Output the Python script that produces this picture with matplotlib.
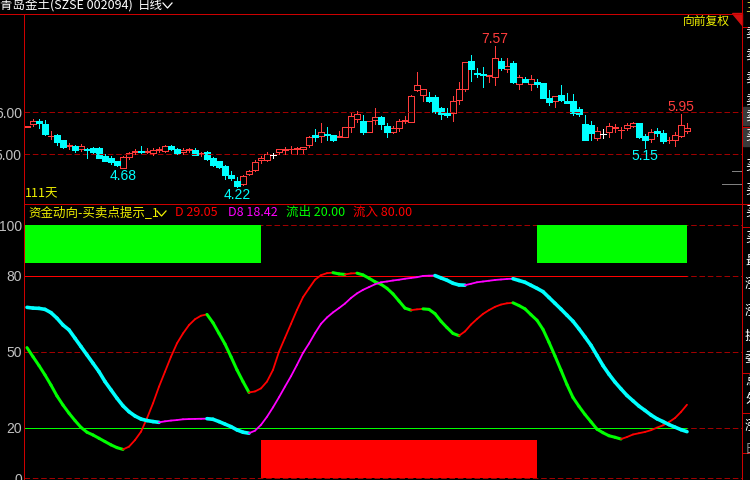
import numpy as np
import matplotlib
matplotlib.use("Agg")
import matplotlib.pyplot as plt
from matplotlib.collections import LineCollection
from matplotlib.lines import Line2D
from matplotlib.patches import Polygon, Rectangle

plt.rcParams['font.family'] = ['Liberation Sans', 'Noto Sans CJK SC', 'DejaVu Sans']
plt.rcParams['lines.scale_dashes'] = False
CJK = ['Noto Sans CJK SC', 'DejaVu Sans']

# ---- daily bars (111 days) ----
opens = [5.65, 5.71, 5.80, 5.72, 5.43, 5.46, 5.34, 5.20, 5.20, 5.12,
         5.13, 5.14, 5.16, 4.96, 4.92, 4.83, 4.68, 4.94, 5.05, 5.08,
         5.05, 5.02, 5.11, 5.09, 5.20, 5.13, 5.05, 5.11, 5.10, 5.01,
         5.06, 4.90, 4.83, 4.72, 4.51, 4.37, 4.29, 4.52, 4.62, 4.86,
         4.87, 4.98, 5.05, 5.11, 5.12, 5.13, 5.12, 5.21, 5.46, 5.44,
         5.48, 5.46, 5.42, 5.42, 5.66, 5.85, 5.79, 5.52, 5.82, 5.88,
         5.67, 5.54, 5.63, 5.80, 5.78, 6.53, 6.41, 6.37, 6.37, 6.11,
         5.98, 5.99, 6.29, 6.56, 7.22, 6.94, 6.92, 6.86, 6.83, 7.21,
         7.03, 7.18, 6.67, 6.79, 6.67, 6.73, 6.69, 6.35, 6.28, 6.41,
         6.27, 6.27, 6.08, 5.72, 5.70, 5.38, 5.48, 5.52, 5.62, 5.57,
         5.63, 5.68, 5.74, 5.44, 5.36, 5.56, 5.50, 5.33, 5.33, 5.44,
         5.56]
highs = [5.68, 5.84, 5.84, 5.82, 5.56, 5.48, 5.35, 5.26, 5.22, 5.25,
         5.14, 5.17, 5.18, 5.00, 4.96, 4.85, 4.97, 5.06, 5.12, 5.20,
         5.14, 5.14, 5.17, 5.22, 5.22, 5.14, 5.14, 5.16, 5.14, 5.06,
         5.08, 4.94, 4.85, 4.75, 4.60, 4.47, 4.51, 4.63, 4.86, 4.95,
         5.06, 5.04, 5.13, 5.17, 5.20, 5.18, 5.17, 5.44, 5.60, 5.74,
         5.64, 5.46, 5.56, 5.64, 5.98, 6.03, 5.94, 5.79, 6.10, 5.91,
         5.74, 5.67, 5.83, 5.91, 6.41, 6.97, 6.55, 6.49, 6.40, 6.13,
         6.10, 6.39, 6.73, 7.19, 7.37, 7.06, 7.09, 6.88, 7.57, 7.29,
         7.29, 7.22, 6.89, 6.85, 6.89, 6.79, 6.69, 6.53, 6.39, 6.65,
         6.47, 6.43, 6.12, 5.94, 5.80, 5.64, 5.60, 5.74, 5.72, 5.66,
         5.74, 5.78, 5.74, 5.48, 5.60, 5.63, 5.58, 5.42, 5.52, 5.95,
         5.74]
lows = [5.64, 5.67, 5.63, 5.46, 5.36, 5.21, 5.16, 5.12, 5.06, 5.07,
        4.92, 5.02, 4.90, 4.83, 4.76, 4.71, 4.68, 4.89, 5.00, 5.04,
        5.04, 4.98, 5.06, 5.06, 5.10, 5.00, 5.01, 5.06, 4.98, 4.97,
        4.87, 4.73, 4.67, 4.41, 4.39, 4.22, 4.27, 4.50, 4.60, 4.80,
        4.85, 4.92, 5.00, 5.01, 5.04, 5.01, 5.02, 5.17, 5.32, 5.30,
        5.34, 5.32, 5.40, 5.40, 5.52, 5.77, 5.48, 5.52, 5.72, 5.60,
        5.42, 5.50, 5.56, 5.74, 5.76, 6.51, 6.27, 6.25, 5.98, 5.84,
        5.88, 5.79, 6.20, 6.51, 6.75, 6.83, 6.61, 6.71, 6.65, 7.01,
        6.97, 6.69, 6.56, 6.71, 6.53, 6.60, 6.33, 6.17, 6.13, 6.28,
        6.23, 5.94, 5.91, 5.34, 5.34, 5.34, 5.38, 5.40, 5.54, 5.38,
        5.58, 5.66, 5.38, 5.15, 5.30, 5.44, 5.28, 5.28, 5.20, 5.42,
        5.50]
closes = [5.67, 5.80, 5.74, 5.48, 5.44, 5.30, 5.18, 5.21, 5.10, 5.20,
          5.10, 5.06, 4.92, 4.85, 4.81, 4.75, 4.94, 5.04, 5.07, 5.05,
          5.07, 5.10, 5.12, 5.20, 5.12, 5.02, 5.10, 5.12, 4.98, 5.03,
          4.89, 4.75, 4.69, 4.51, 4.44, 4.25, 4.48, 4.61, 4.82, 4.92,
          5.01, 4.98, 5.12, 5.13, 5.13, 5.15, 5.17, 5.41, 5.40, 5.52,
          5.45, 5.34, 5.44, 5.64, 5.91, 5.96, 5.52, 5.79, 5.88, 5.72,
          5.52, 5.63, 5.79, 5.82, 6.39, 6.65, 6.55, 6.27, 6.00, 5.96,
          5.94, 6.27, 6.55, 7.19, 7.03, 6.91, 6.89, 6.88, 7.29, 7.05,
          7.10, 6.71, 6.83, 6.73, 6.79, 6.67, 6.35, 6.25, 6.39, 6.29,
          6.23, 5.99, 5.96, 5.34, 5.50, 5.56, 5.48, 5.67, 5.64, 5.59,
          5.70, 5.75, 5.40, 5.34, 5.52, 5.50, 5.32, 5.35, 5.46, 5.70,
          5.63]

# marked extremes: bar index, 'high' or 'low'
mark_idx = [78, 109, 103, 16, 35]
mark_kind = ['high', 'high', 'low', 'low', 'low']
price_ticks = [5.0, 6.0]

# ---- indicator ----
D = [51.6, 48.0, 44.5, 40.8, 36.8, 32.5, 28.9, 25.7, 22.8, 20.1,
     18.2, 17.1, 15.8, 14.5, 13.2, 12.1, 11.4, 12.5, 15.1, 18.4,
     23.7, 29.6, 36.2, 42.1, 48.0, 53.3, 57.2, 60.5, 62.8, 64.2,
     64.7, 61.4, 57.2, 53.0, 48.0, 42.8, 38.2, 33.9, 34.3, 35.5,
     38.2, 42.8, 50.0, 55.5, 61.0, 66.5, 71.5, 75.0, 78.4, 80.2,
     81.0, 81.2, 80.7, 80.5, 80.9, 81.0, 80.3, 79.0, 77.6, 76.6,
     75.0, 72.8, 70.0, 67.2, 66.4, 66.7, 66.9, 66.7, 65.0, 62.0,
     59.5, 57.2, 56.3, 58.0, 60.7, 62.9, 64.9, 66.4, 67.7, 68.6,
     69.1, 69.3, 68.2, 66.9, 64.6, 62.4, 58.8, 53.7, 48.3, 42.7,
     37.0, 31.9, 28.4, 25.2, 22.3, 19.4, 18.0, 16.8, 16.2, 15.5,
     16.3, 17.3, 17.8, 18.3, 19.0, 20.0, 20.9, 22.2, 23.8, 26.2,
     29.05]
D8 = [67.5, 67.2, 67.1, 66.7, 65.4, 63.2, 60.5, 58.6, 55.3, 52.0,
      48.7, 45.4, 42.1, 38.2, 34.9, 31.6, 28.6, 26.3, 24.6, 23.4,
      22.8, 22.4, 22.1, 22.5, 22.8, 23.0, 23.3, 23.4, 23.45, 23.5,
      23.55, 23.3, 22.4, 21.4, 20.4, 19.1, 18.2, 17.8, 18.8, 21.1,
      24.3, 28.0, 32.0, 36.2, 40.3, 44.8, 49.5, 53.2, 57.3, 61.0,
      63.5, 65.5, 67.2, 69.0, 71.2, 73.0, 74.4, 75.5, 76.6, 77.4,
      77.7, 78.1, 78.4, 78.8, 79.1, 79.4, 79.9, 80.0, 80.05, 79.1,
      78.2, 77.0, 76.35, 76.25, 76.8, 77.4, 77.7, 78.0, 78.3, 78.5,
      78.7, 78.8, 78.1, 77.4, 76.2, 75.0, 73.7, 71.4, 69.1, 66.8,
      64.4, 62.0, 59.0, 55.8, 52.5, 48.5, 44.5, 41.1, 38.0, 35.3,
      32.7, 30.6, 28.5, 26.8, 25.0, 23.5, 22.4, 21.2, 20.2, 19.2,
      18.42]
outflow_level = 20.0
inflow_level = 80.0
ind_ticks = [0, 20, 50, 80, 100]
# signal zones (bar index ranges)
zone_from = [0, 39, 85]
zone_to = [39, 85, 110]
zone_kind = ['out', 'in', 'out']
out_band = [85, 100]
in_band = [0, 15]

RED = '#FF0000'
KRED = '#FF3C3C'
GREEN = '#00FF00'
CYAN = '#00FFFF'
MAG = '#FF00FF'
DASH = '#A00000'
FRAME = '#CC0000'
YEL = '#F0F000'
GRAY = '#C0C0C0'
PX = 0.72  # one pixel in points

W, H = 750, 480
fig = plt.figure(figsize=(7.5, 4.8), dpi=100, facecolor='black')


def box(x0, y0, x1, y1):
    return [x0 / W, 1 - y1 / H, (x1 - x0) / W, (y1 - y0) / H]


def fline(xs, ys, **kw):
    fig.add_artist(Line2D([v / W for v in xs], [1 - v / H for v in ys], **kw))


def ftext(x, y, s, **kw):
    fig.text(x / W, 1 - y / H, s, **kw)


ax1 = fig.add_axes(box(24, 13, 742, 203))
ax2 = fig.add_axes(box(24, 203, 742, 480))
for ax in (ax1, ax2):
    ax.set_facecolor('black')
    ax.set_xlim(-0.5, 119.17)
    for s in ax.spines.values():
        s.set_visible(False)
    ax.set_xticks([])
    ax.tick_params(axis='y', length=0, pad=1.5, labelcolor=GRAY, labelsize=10)
ax1.set_ylim(3.840, 8.364)
ax2.set_ylim(-0.67, 108.7)

# ---- candles ----
o, h, l, c = (np.array(a) for a in (opens, highs, lows, closes))
x = np.arange(len(o))
body_lo = np.minimum(o, c)
body_hi = np.maximum(o, c)
up, dn, fl = c > o, c < o, c == o
ax1.set_yticks(price_ticks, ['%.2f' % p for p in price_ticks])
for p in price_ticks:
    ax1.axhline(p, color=DASH, lw=PX, ls=(0, (4, 2)))
for m, col in ((up, KRED), (dn, CYAN), (fl, 'white')):
    ax1.vlines(x[m], body_hi[m], h[m], color=col, lw=PX, antialiased=False)
    ax1.vlines(x[m], l[m], body_lo[m], color=col, lw=PX, antialiased=False)
ax1.bar(x[up], (c - o)[up], bottom=o[up], width=0.84, facecolor='black',
        edgecolor=KRED, lw=PX, antialiased=False)
ax1.bar(x[dn], (o - c)[dn], bottom=c[dn], width=0.84, color=CYAN,
        edgecolor=CYAN, lw=PX, antialiased=False)
ax1.hlines(o[fl], x[fl] - 0.45, x[fl] + 0.45, color='white', lw=PX, antialiased=False)

for i, k in zip(mark_idx, mark_kind):
    if k == 'high':
        ax1.annotate('%.2f' % h[i], (i, h[i]), xytext=(0, 0), textcoords='offset pixels',
                     ha='center', va='bottom', color=KRED, fontsize=10)
    else:
        ax1.annotate('%.2f' % l[i], (i, l[i]), xytext=(0, -1), textcoords='offset pixels',
                     ha='center', va='top', color=CYAN, fontsize=10)

# ---- indicator panel ----
ax2.set_yticks(ind_ticks, [str(t) for t in ind_ticks])
for t in ind_ticks:
    ax2.axhline(t, color=DASH, lw=PX, ls=(0, (4, 2)), zorder=1)
x_left = ax2.get_xlim()[0]
ax2.hlines(inflow_level, x_left, len(D) - 1, color=RED, lw=PX, zorder=2)
ax2.hlines(outflow_level, x_left, len(D) - 1, color=GREEN, lw=PX, zorder=2)

for a, b, k in zip(zone_from, zone_to, zone_kind):
    band, col = (out_band, GREEN) if k == 'out' else (in_band, RED)
    left = a if a > 0 else x_left
    ax2.bar(left, band[1] - band[0], bottom=band[0], width=b - left, align='edge',
            color=col, lw=0, zorder=3)


def two_colour(ax, vals, up_col, dn_col, up_w, dn_w):
    v = np.asarray(vals)
    pts = np.column_stack([np.arange(len(v)), v])
    segs = np.stack([pts[:-1], pts[1:]], axis=1)
    rising = v[1:] >= v[:-1]
    ax.add_collection(LineCollection(segs, colors=np.where(rising, up_col, dn_col),
                                     linewidths=np.where(rising, up_w, dn_w),
                                     capstyle='round', zorder=4))


two_colour(ax2, D, RED, GREEN, 1.3, 2.2)
two_colour(ax2, D8, MAG, CYAN, 1.3, 2.6)

# ---- frame lines ----
fline([0, 742], [13.5, 13.5], color=FRAME, lw=PX)
fline([24.5, 24.5], [13.5, 480], color=FRAME, lw=PX)
fline([24, 750], [203.5, 203.5], color=FRAME, lw=PX)
fline([741.5, 741.5], [0, 480], color=FRAME, lw=PX)
for yy in (26.5, 126.5, 227.5, 372.5, 412.5, 452.5):
    fline([742, 750], [yy, yy], color=FRAME, lw=PX)
fline([732, 741], [170.5, 170.5], color='#808080', lw=PX)
fline([722, 741], [183.5, 183.5], color='#808080', lw=PX)
fig.add_artist(Polygon([(732 / W, 1 - 13 / H), (742 / W, 1 - 13 / H), (742 / W, 1 - 25 / H)],
                       closed=True, color='#D01010', transform=fig.transFigure))
for y0, y1 in ((107, 125), (127, 146)):
    fig.add_artist(Rectangle((743 / W, 1 - y1 / H), 7 / W, (y1 - y0) / H,
                             color='#3A3A3A', transform=fig.transFigure))

# ---- texts ----
ftext(0, 5, '青岛金土(SZSE 002094)', color='white', fontsize=9, family=CJK, va='center')
ftext(138, 5, '日线', color='white', fontsize=9, family=CJK, va='center')
fline([163, 167.5, 172], [3, 8, 3], color='white', lw=0.9)
ftext(706, 21, '向前复权', color=YEL, fontsize=8.5, family=CJK, ha='center', va='center')
ftext(25, 194, '111天', color=YEL, fontsize=9, family=CJK, va='center')

ftext(28, 212.5, '资金动向-买卖点提示_1', color=YEL, fontsize=9, family=CJK, va='center')
fline([157, 161.5, 166], [211, 216, 211], color=YEL, lw=0.9)
ftext(175, 212.5, 'D %.2f' % D[-1], color=RED, fontsize=9, family=CJK, va='center')
ftext(228, 212.5, 'D8 %.2f' % D8[-1], color=MAG, fontsize=9, family=CJK, va='center')
ftext(286, 212.5, '流出 %.2f' % outflow_level, color=GREEN, fontsize=9, family=CJK, va='center')
ftext(353, 212.5, '流入 %.2f' % inflow_level, color=RED, fontsize=9, family=CJK, va='center')

side_chars = ['卖', '卖', '卖', '卖', '卖', '买', '买', '买', '买', '买',
              '最', '涨', '涨', '换', '委', '总', '外', '涨', '日']
side_y = [33, 55, 78, 100, 116, 136, 166, 190, 212, 238, 262, 284, 311, 336, 358,
          382, 400, 426, 450]
for ch, yy in zip(side_chars, side_y):
    ftext(745, yy, ch, color='white' if ch != '日' else '#909090', fontsize=9.5,
          family=CJK, va='center')
ftext(745, 8, '三', color='#C0C040', fontsize=9.5, family=CJK, va='center')

fig.savefig('out.png', dpi=100, facecolor='black')
